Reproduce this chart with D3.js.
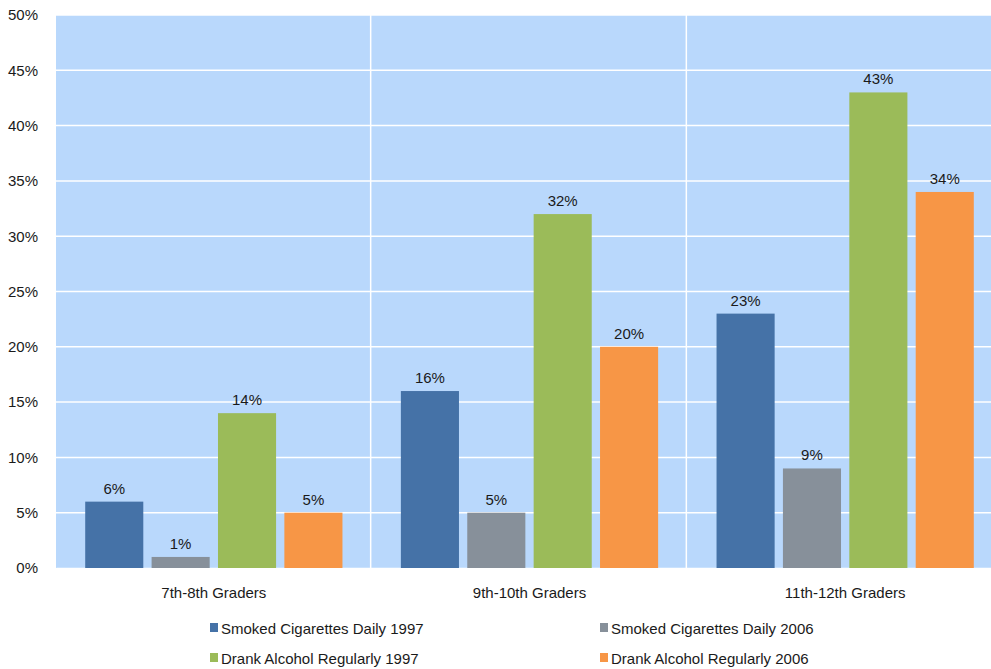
<!DOCTYPE html>
<html><head><meta charset="utf-8">
<script src="https://cdn.jsdelivr.net/npm/d3@7"></script>
<style>body{margin:0;background:#fff}svg{display:block}text{font-family:"Liberation Sans",Arial,sans-serif;fill:#1a1a1a}</style>
</head><body><svg id="c" width="991" height="669"></svg>
<script>
const categories = ["7th-8th Graders", "9th-10th Graders", "11th-12th Graders"];
const seriesNames = ["Smoked Cigarettes Daily 1997", "Smoked Cigarettes Daily 2006", "Drank Alcohol Regularly 1997", "Drank Alcohol Regularly 2006"];
const smoked1997 = [6, 16, 23];
const smoked2006 = [1, 5, 9];
const alcohol1997 = [14, 32, 43];
const alcohol2006 = [5, 20, 34];
const yTicks = [0, 5, 10, 15, 20, 25, 30, 35, 40, 45, 50];
const colors = ["#4572A7", "#87909A", "#9BBB59", "#F79646"];

(function () {
const series = [smoked1997, smoked2006, alcohol1997, alcohol2006];
const svg = d3.select("#c");
const pl = 56, pr = 1003, pt = 15, pb = 568;
const FS = 15;
const x0 = d3.scaleBand().domain(categories).range([pl, pr]).paddingInner(0).paddingOuter(0);
const x1 = d3.scaleBand().domain(d3.range(4)).range([0, x0.bandwidth()]).paddingInner(0.125).paddingOuter(0.44);
const y = d3.scaleLinear().domain([0, 50]).range([pb, pt]);

svg.append("rect").attr("x", pl).attr("y", pt).attr("width", pr - pl).attr("height", pb - pt).attr("fill", "#B9D8FC");
svg.append("g").selectAll("line").data(yTicks.slice(1)).join("line")
  .attr("x1", pl).attr("x2", pr).attr("y1", d => y(d)).attr("y2", d => y(d))
  .attr("stroke", "#fff").attr("stroke-width", 1.5);
svg.append("g").selectAll("line").data(categories.slice(1)).join("line")
  .attr("x1", d => x0(d) - 1).attr("x2", d => x0(d) - 1).attr("y1", pt).attr("y2", pb)
  .attr("stroke", "#fff").attr("stroke-width", 1.5);

const yAxis = svg.append("g").attr("transform", `translate(${pl},0)`)
  .call(d3.axisLeft(y).tickValues(yTicks).tickFormat(d => d + "%").tickSize(0).tickPadding(18));
yAxis.select(".domain").remove();
yAxis.selectAll("text").attr("font-size", FS).attr("fill", "#1a1a1a").attr("font-family", "Liberation Sans, Arial, sans-serif");

const xAxis = svg.append("g").attr("transform", `translate(0,${pb})`)
  .call(d3.axisBottom(x0).tickSize(0).tickPadding(19));
xAxis.select(".domain").attr("stroke", "#fff").attr("stroke-width", 1.5);
xAxis.selectAll("text").attr("font-size", FS).attr("fill", "#1a1a1a").attr("font-family", "Liberation Sans, Arial, sans-serif");

const groups = svg.append("g").selectAll("g").data(categories).join("g")
  .attr("transform", d => `translate(${x0(d)},0)`);
groups.selectAll("rect").data((d, i) => series.map((s, k) => ({k, v: s[i]}))).join("rect")
  .attr("x", d => x1(d.k)).attr("width", x1.bandwidth())
  .attr("y", d => y(d.v)).attr("height", d => y(0) - y(d.v))
  .attr("fill", d => colors[d.k]);
groups.selectAll("text").data((d, i) => series.map((s, k) => ({k, v: s[i]}))).join("text")
  .attr("x", d => x1(d.k) + x1.bandwidth() / 2).attr("y", d => y(d.v) - 8)
  .attr("text-anchor", "middle").attr("font-size", FS).text(d => d.v + "%");

const legendPos = [[210, 634], [600, 634], [210, 664], [600, 664]];
const lg = svg.append("g").selectAll("g").data(seriesNames).join("g")
  .attr("transform", (d, i) => `translate(${legendPos[i][0]},${legendPos[i][1]})`);
lg.append("rect").attr("x", 0).attr("y", -11).attr("width", 8).attr("height", 9).attr("fill", (d, i) => colors[i]);
lg.append("text").attr("x", 11).attr("y", 0).attr("font-size", FS).text(d => d);
})();
</script></body></html>
